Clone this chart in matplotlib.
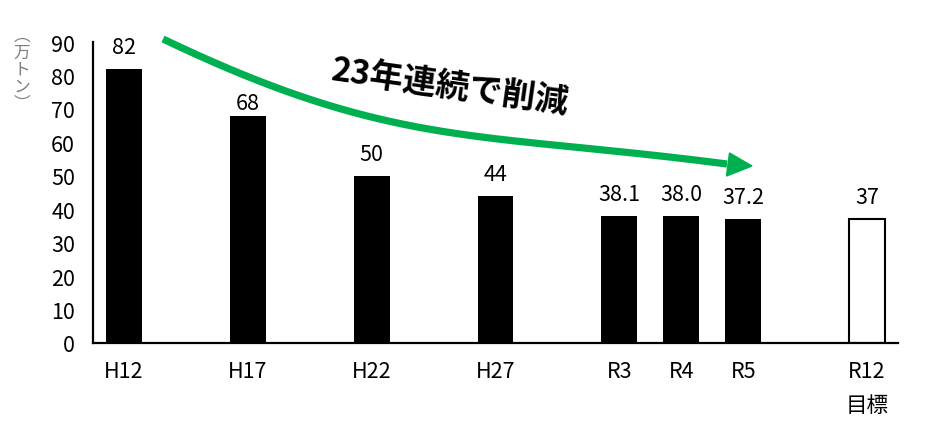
import numpy as np
import matplotlib.pyplot as plt
from matplotlib.patches import Polygon

plt.rcParams['font.family'] = ['Noto Sans CJK JP', 'DejaVu Sans']

# data
years = ['H12', 'H17', 'H22', 'H27', 'R3', 'R4', 'R5', 'R12\n目標']
amounts = [82, 68, 50, 44, 38.1, 38.0, 37.2, 37]
value_labels = ['82', '68', '50', '44', '38.1', '38.0', '37.2', '37']
is_target = [False, False, False, False, False, False, False, True]
yticks = list(range(0, 100, 10))

# bar slots, gaps between the old years like in the original
pos = [0, 2, 4, 6, 8, 9, 10, 12]

W, H = 927, 431
fig = plt.figure(figsize=(W / 100, H / 100), dpi=100)
ax = fig.add_axes([93 / W, 1 - 344 / H, (898 - 93) / W, (344 - 43) / H])

def px(x, y):  # pixel (top-left origin) -> figure fraction
    return np.asarray(x) / W, 1 - np.asarray(y) / H

FS = 15.5
for p, v, lab, tgt in zip(pos, amounts, value_labels, is_target):
    if tgt:
        ax.bar(p, v, width=0.57, color='white', edgecolor='black', linewidth=1.5)
    else:
        ax.bar(p, v, width=0.58, color='black')
    off = 4.5 if lab == '68' else 11.5  # 68 pushed down under the arrow
    ax.annotate(lab, (p, v), xytext=(0, off), textcoords='offset points',
                ha='center', va='baseline', fontsize=FS)

ax.set_xlim(-0.5, 12.5)
ax.set_ylim(0, 90)
ax.set_yticks(yticks)
ax.set_xticks(pos, years)
ax.tick_params(axis='y', length=0, pad=13, labelsize=FS)
ax.tick_params(axis='x', length=0, pad=12, labelsize=FS)
for lbl in ax.get_xticklabels():
    lbl.set_linespacing(1.75)
for s in ['top', 'right']:
    ax.spines[s].set_visible(False)
for s in ['left', 'bottom']:
    ax.spines[s].set_linewidth(1.6)
    ax.spines[s].set_color('black')

# green trend arrow (cubic bezier in pixel space)
p0 = np.array([163, 40]); p1 = np.array([393, 150])
p2 = np.array([477, 132.5]); p3 = np.array([727, 165])
t = np.linspace(0, 1, 200)[:, None]
curve = (1 - t)**3 * p0 + 3 * (1 - t)**2 * t * p1 + 3 * (1 - t) * t**2 * p2 + t**3 * p3
cx, cy = px(curve[:, 0], curve[:, 1])
fig.add_artist(plt.Line2D(cx, cy, color='#00B050', linewidth=5.2,
                          solid_capstyle='butt', transform=fig.transFigure))
hx, hy = px([752, 729.5, 726.5], [167, 154, 177])
fig.add_artist(Polygon(np.column_stack([hx, hy]), closed=True, color='#00B050',
                       transform=fig.transFigure))

tx, ty = px(450, 87)
fig.text(tx, ty, '23年連続で削減', rotation=-8, rotation_mode='anchor',
         ha='center', va='center', fontsize=24, fontweight='bold')

# unit label, stacked vertically
ux, uy = px(22, 70)
fig.text(ux, uy, '︵\n万\nト\nン\n︶', ha='center', va='center',
         fontsize=12, color='#7f7f7f', linespacing=1.0)

fig.savefig('out.png', dpi=100)
